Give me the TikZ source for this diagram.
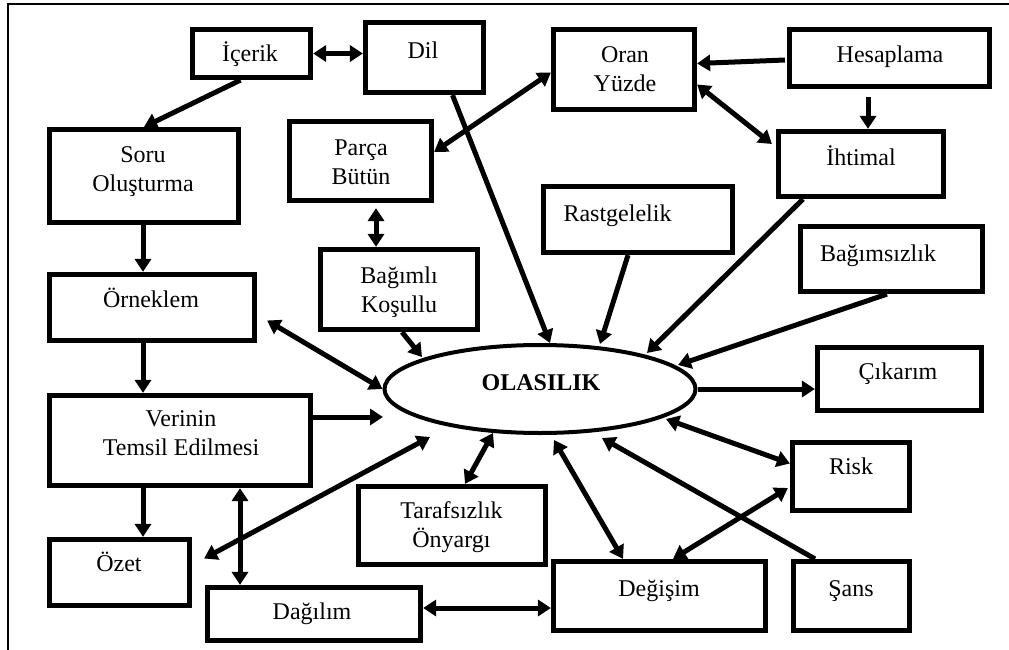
\documentclass[tikz,border=0pt]{standalone}
\usepackage{fontspec}
\setmainfont{Liberation Serif}
\usetikzlibrary{arrows.meta,shapes.geometric}
\begin{document}
\begin{tikzpicture}[x=1pt,y=-1pt,
  box/.style={draw,line width=5.2pt,inner sep=0pt},
  lbl/.style={anchor=base,inner sep=0pt,font=\fontsize{24}{29}\selectfont},
  conn/.style={line width=5pt},
  >={Triangle[length=13pt,width=16pt]}]
\useasboundingbox (0,0) rectangle (1009,650);
% frame
\draw[line width=1.8pt] (7.7,650) -- (7.7,4.3) -- (1009,4.3);
% boxes
\node[box,minimum width=118pt,minimum height=48pt] (icerik) at (251.5,53.5) {};
\node[box,minimum width=118pt,minimum height=70pt] (dil) at (424.5,57.5) {};
\node[box,minimum width=189pt,minimum height=93pt] (soru) at (144,176) {};
\node[box,minimum width=142pt,minimum height=79pt] (parca) at (360.5,161) {};
\node[box,minimum width=205pt,minimum height=66pt] (orneklem) at (152,307.5) {};
\node[box,minimum width=157pt,minimum height=80pt] (bagimli) at (399,289.5) {};
\node[box,minimum width=141pt,minimum height=80pt] (oran) at (624,69.5) {};
\node[box,minimum width=200pt,minimum height=57pt] (hesap) at (889.5,58) {};
\node[box,minimum width=165pt,minimum height=65pt] (ihtimal) at (861,164) {};
\node[box,minimum width=189pt,minimum height=66pt] (rastgele) at (638,219.5) {};
\node[box,minimum width=182pt,minimum height=65pt] (bagimsiz) at (891.5,259) {};
\node[box,minimum width=164pt,minimum height=63pt] (cikarim) at (899.5,379) {};
\node[box,minimum width=117pt,minimum height=68pt] (risk) at (851,476.5) {};
\node[box,minimum width=212pt,minimum height=69pt] (degisim) at (659.5,596) {};
\node[box,minimum width=116pt,minimum height=69pt] (sans) at (851.5,596) {};
\node[box,minimum width=261pt,minimum height=90pt] (verinin) at (180,440.5) {};
\node[box,minimum width=140pt,minimum height=66pt] (ozet) at (119.5,572.5) {};
\node[box,minimum width=213pt,minimum height=53pt] (dagilim) at (314,614) {};
\node[box,minimum width=187pt,minimum height=78pt] (taraf) at (452,525.5) {};
\node[draw,ellipse,line width=4pt,minimum width=311pt,minimum height=88pt,inner sep=0pt] (olas) at (540,389) {};
% texts
\node[lbl] (t-icerik) at (250,62) {İçerik};
\node[lbl] (t-dil) at (423,59) {Dil};
\node[lbl] (t-soru) at (143,162) {\begin{tabular}[t]{@{}c@{}}Soru\\Oluşturma\end{tabular}};
\node[lbl] (t-parca) at (361,155) {\begin{tabular}[t]{@{}c@{}}Parça\\Bütün\end{tabular}};
\node[lbl] (t-orneklem) at (151,307) {Örneklem};
\node[lbl] (t-bagimli) at (399,283) {\begin{tabular}[t]{@{}c@{}}Bağımlı\\Koşullu\end{tabular}};
\node[lbl] (t-oran) at (625,63) {\begin{tabular}[t]{@{}c@{}}Oran\\Yüzde\end{tabular}};
\node[lbl] (t-hesap) at (890,63) {Hesaplama};
\node[lbl] (t-ihtimal) at (861,165) {İhtimal};
\node[lbl] (t-rastgele) at (617.5,221) {Rastgelelik};
\node[lbl] (t-bagimsiz) at (878,261) {Bağımsızlık};
\node[lbl,font=\fontsize{24}{29}\selectfont\bfseries] (t-olas) at (541,390) {OLASILIK};
\node[lbl] (t-cikarim) at (898,379) {Çıkarım};
\node[lbl] (t-risk) at (851,474) {Risk};
\node[lbl] (t-degisim) at (659,596) {Değişim};
\node[lbl] (t-sans) at (851,596) {Şans};
\node[lbl] (t-verinin) at (181,426) {\begin{tabular}[t]{@{}c@{}}Verinin\\Temsil Edilmesi\end{tabular}};
\node[lbl] (t-taraf) at (451.5,518) {\begin{tabular}[t]{@{}c@{}}Tarafsızlık\\Önyargı\end{tabular}};
\node[lbl] (t-ozet) at (119,571) {Özet};
\node[lbl] (t-dagilim) at (312,619) {Dağılım};
% connectors
\draw[conn,<->] (icerik.east) -- (icerik.east -| dil.west);
\draw[conn,->] ([shift={(-11,0)}]icerik.south) -- (soru.north);
\draw[conn,->] ([shift={(28,0)}]dil.south) -- ([shift={(10,-46)}]olas.center);
\draw[conn,<->] ([shift={(0,-9)}]parca.east) -- ([shift={(0,3)}]oran.west);
\draw[conn,->] ([shift={(-2,2)}]hesap.west) -- ([shift={(0,-6)}]oran.east);
\draw[conn,->,shorten <=8pt] ([shift={(-21.5,0)}]hesap.south) -- ([shift={(7,0)}]ihtimal.north);
\draw[conn,<->] ([shift={(0,15)}]oran.east) -- ([shift={(-4,-20)}]ihtimal.west);
\draw[conn,->] ([shift={(-58,0)}]ihtimal.south) -- ([shift={(107,-36)}]olas.center);
\draw[conn,->] ([shift={(-10,0)}]rastgele.south) -- ([shift={(60,-45)}]olas.center);
\draw[conn,->] ([shift={(-4.5,0)}]bagimsiz.south) -- ([shift={(138,-24)}]olas.center);
\draw[conn,->] (olas.east) -- (olas.east -| cikarim.west);
\draw[conn,<->] ([shift={(126,30)}]olas.center) -- ([shift={(0,-13)}]risk.west);
\draw[conn,->] ([shift={(-36.5,0)}]sans.north) -- ([shift={(62,49)}]olas.center);
\draw[conn,<->] ([shift={(13.5,0)}]degisim.north) -- ([shift={(-2,11.5)}]risk.west);
\draw[conn,<->] ([shift={(14,51)}]olas.center) -- ([shift={(-36.5,0)}]degisim.north);
\draw[conn,<->] ([shift={(13,0)}]taraf.north) -- ([shift={(-47,44)}]olas.center);
\draw[conn,<->] ([shift={(0,-6)}]dagilim.east) -- ([shift={(0,-6)}]dagilim.east -| degisim.west);
\draw[conn,<->] ([shift={(60,0)}]verinin.south) -- ([shift={(-74,0)}]dagilim.north);
\draw[conn,->] ([shift={(-37,0)}]verinin.south) -- ([shift={(23.5,0)}]ozet.north);
\draw[conn,->] ([shift={(-9,0)}]orneklem.south) -- ([shift={(-37,0)}]verinin.north);
\draw[conn,->] ([shift={(-1,0)}]soru.south) -- ([shift={(-9,0)}]orneklem.north);
\draw[conn,<->,shorten <=5pt] ([shift={(15.5,0)}]parca.south) -- ([shift={(-23,0)}]bagimli.north);
\draw[conn,->] ([shift={(3,0)}]bagimli.south) -- ([shift={(-118,-32)}]olas.center);
\draw[conn,<->] ([shift={(10,13)}]orneklem.east) -- (olas.west);
\coordinate (vend) at ([shift={(-157,28)}]olas.center);
\draw[conn,->] ([shift={(0,-23.5)}]verinin.east) -- (vend);
\draw[conn,<->] ([shift={(12,-14)}]ozet.east) -- ([shift={(-110,48)}]olas.center);
\end{tikzpicture}
\end{document}
